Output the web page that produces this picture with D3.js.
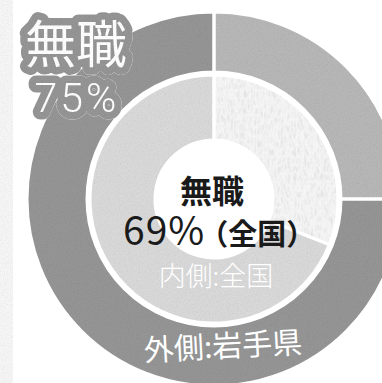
<!DOCTYPE html>
<html>
<head>
<meta charset="utf-8">
<script src="https://cdn.jsdelivr.net/npm/d3@7"></script>
<style>
  html, body { margin: 0; padding: 0; background: #ffffff; }
  svg { display: block; }
  text { font-family: "Noto Sans CJK JP", "Noto Sans", sans-serif; }
</style>
</head>
<body>
<svg id="chart" width="382" height="383"></svg>
<script>
// Shares of people by occupation status (percent)
const ringNames = ["外側:岩手県", "内側:全国"];
const categories = ["その他", "無職"];
const outerValues = [25, 75];   // 岩手県
const innerValues = [31, 69];   // 全国
const headlineLabel = "無職";
const outerHeadline = "75%";
const innerHeadline = "69%";
const innerScopeLabel = "（全国）";

const W = 382, H = 383;
const cx = 214, cy = 199;

const svg = d3.select("#chart");
const defs = svg.append("defs");

// fine paper grain multiplied over the fills
const grain = defs.append("filter").attr("id", "grain")
  .attr("x", "-10%").attr("y", "-10%").attr("width", "120%").attr("height", "120%");
grain.append("feTurbulence").attr("type", "fractalNoise")
  .attr("baseFrequency", "0.9").attr("numOctaves", 2).attr("seed", 3).attr("result", "noise");
grain.append("feColorMatrix").attr("in", "noise").attr("type", "matrix")
  .attr("values", "0.26 0 0 0 0.84  0.26 0 0 0 0.84  0.26 0 0 0 0.84  0 0 0 0 1")
  .attr("result", "tone");
grain.append("feComposite").attr("in", "tone").attr("in2", "SourceGraphic")
  .attr("operator", "in").attr("result", "clipped");
grain.append("feBlend").attr("in", "clipped").attr("in2", "SourceGraphic").attr("mode", "multiply");

// wavy engraved texture for the light inner segment
const wavy = defs.append("filter").attr("id", "wavy")
  .attr("x", "-10%").attr("y", "-10%").attr("width", "120%").attr("height", "120%");
wavy.append("feTurbulence").attr("type", "turbulence")
  .attr("baseFrequency", "0.3 0.12").attr("numOctaves", 2).attr("seed", 7).attr("result", "noise");
wavy.append("feColorMatrix").attr("in", "noise").attr("type", "matrix")
  .attr("values", "-0.26 0 0 0 1.02  -0.26 0 0 0 1.02  -0.26 0 0 0 1.02  0 0 0 0 1")
  .attr("result", "tone");
wavy.append("feComposite").attr("in", "tone").attr("in2", "SourceGraphic")
  .attr("operator", "in").attr("result", "clipped");
wavy.append("feBlend").attr("in", "clipped").attr("in2", "SourceGraphic").attr("mode", "multiply");

// speckled strip along the left edge
svg.append("rect").attr("x", 0).attr("y", 0).attr("width", 13).attr("height", H)
  .attr("fill", "#f6f6f6").attr("filter", "url(#grain)");

const pie = d3.pie().sort(null).value(d => d).startAngle(0).endAngle(2 * Math.PI);

const rings = [
  { name: ringNames[0], values: outerValues, inner: 127, outer: 187,
    colors: { "その他": "#b7b7b7", "無職": "#959595" } },
  { name: ringNames[1], values: innerValues, inner: 59, outer: 124,
    colors: { "その他": "#f5f5f5", "無職": "#d9d9d9" } }
];

const g = svg.append("g").attr("transform", `translate(${cx},${cy})`);

rings.forEach(ring => {
  const arc = d3.arc().innerRadius(ring.inner).outerRadius(ring.outer);
  g.append("g").selectAll("path")
    .data(pie(ring.values))
    .join("path")
    .attr("d", arc)
    .attr("fill", (d, i) => ring.colors[categories[i]])
    .attr("filter", (d, i) => (ring === rings[1] && categories[i] === "その他") ? "url(#wavy)" : "url(#grain)");
  // white separators between segments and rings
  g.append("g").selectAll("path")
    .data(pie(ring.values))
    .join("path")
    .attr("d", arc)
    .attr("fill", "none")
    .attr("stroke", "#ffffff")
    .attr("stroke-width", 3);
});

// headline for the outer ring, haloed in the ring colour
const headline = svg.append("text").attr("fill", "#ffffff")
  .attr("stroke", "#959595").attr("stroke-linejoin", "round").attr("stroke-width", 15)
  .attr("paint-order", "stroke").attr("filter", "url(#grain)")
  .attr("text-anchor", "middle");
headline.append("tspan").attr("x", 76).attr("y", 63)
  .attr("font-size", 51).text(headlineLabel);
headline.append("tspan").attr("x", 77).attr("y", 112)
  .attr("font-size", 41).attr("font-weight", 300)
  .attr("font-family", "Roboto, Lato, 'Noto Sans', sans-serif")
  .attr("letter-spacing", 3).text(outerHeadline);

// centre label for the inner ring
const centre = svg.append("text").attr("fill", "#1a1a1a");
centre.append("tspan").attr("x", 212).attr("y", 203)
  .attr("text-anchor", "middle").attr("font-size", 32).attr("font-weight", 700)
  .text(headlineLabel);
centre.append("tspan").attr("x", 123).attr("y", 245)
  .attr("font-size", 39).attr("letter-spacing", 1).text(innerHeadline);
centre.append("tspan").attr("dx", -6).attr("font-size", 29).attr("font-weight", 700)
  .attr("letter-spacing", 0).text(innerScopeLabel);

// ring captions
svg.append("text").attr("x", 216).attr("y", 286)
  .attr("text-anchor", "middle").attr("font-size", 27).attr("font-weight", 300)
  .attr("fill", "#ffffff").text(ringNames[1]);
svg.append("text").attr("x", 223).attr("y", 357)
  .attr("text-anchor", "middle").attr("font-size", 30)
  .attr("transform", "rotate(-3 223 346)")
  .attr("fill", "#ffffff").text(ringNames[0]);
</script>
</body>
</html>
